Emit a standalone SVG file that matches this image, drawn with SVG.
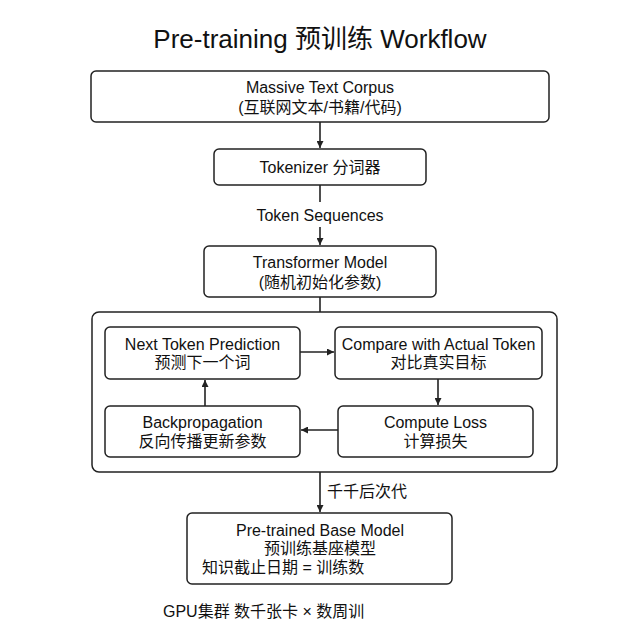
<svg xmlns="http://www.w3.org/2000/svg" width="640" height="640" viewBox="0 0 640 640">
<defs>
<marker id="arr" viewBox="0 0 10 10" refX="10" refY="5" markerWidth="7" markerHeight="7" markerUnits="userSpaceOnUse" orient="auto">
<path d="M0,0 L10,5 L0,10 z" fill="#222"/>
</marker>
<style>
.box{fill:#fff;stroke:#222;stroke-width:1.5}
.t{font-family:"Liberation Sans","Noto Sans CJK SC",sans-serif;font-size:16px;fill:#111;text-anchor:middle}
.ts{font-family:"Liberation Sans","Noto Sans CJK SC",sans-serif;font-size:16px;fill:#111}
.c{stroke:#222;stroke-width:1.6;fill:none}
</style>
</defs>
<rect width="640" height="640" fill="#fff"/>
<text x="320" y="48" class="t" style="font-size:26px">Pre-training 预训练 Workflow</text>

<g id="corpus">
<rect x="91" y="71" width="458" height="51" rx="5" class="box"/>
<text x="320" y="93" class="t">Massive Text Corpus</text>
<text x="320" y="113" class="t">(互联网文本/书籍/代码)</text>
</g>
<g id="tokenizer">
<rect x="214" y="149" width="212" height="36" rx="5" class="box"/>
<text x="320" y="173" class="t">Tokenizer 分词器</text>
</g>
<g id="transformer">
<rect x="204" y="246" width="232" height="51" rx="5" class="box"/>
<text x="320" y="268" class="t">Transformer Model</text>
<text x="320" y="288" class="t">(随机初始化参数)</text>
</g>
<g id="loop">
<rect x="92" y="312" width="465" height="160" rx="7" class="box"/>
</g>
<g id="predict">
<rect x="105" y="327" width="195" height="52" rx="5" class="box"/>
<text x="202.5" y="350" class="t">Next Token Prediction</text>
<text x="202.5" y="368" class="t">预测下一个词</text>
</g>
<g id="compare">
<rect x="335" y="327" width="207" height="52" rx="5" class="box"/>
<text x="438.5" y="350" class="t">Compare with Actual Token</text>
<text x="438.5" y="368" class="t">对比真实目标</text>
</g>
<g id="loss">
<rect x="338" y="406" width="195" height="51" rx="5" class="box"/>
<text x="435.5" y="428" class="t">Compute Loss</text>
<text x="435.5" y="447" class="t">计算损失</text>
</g>
<g id="backprop">
<rect x="105" y="406" width="195" height="51" rx="5" class="box"/>
<text x="202.5" y="428" class="t">Backpropagation</text>
<text x="202.5" y="447" class="t">反向传播更新参数</text>
</g>
<g id="base">
<rect x="187" y="513" width="265" height="71" rx="5" class="box"/>
<text x="320" y="536" class="t">Pre-trained Base Model</text>
<text x="320" y="554" class="t">预训练基座模型</text>
<text x="202" y="573" class="ts">知识截止日期 = 训练数</text>
</g>
<text x="163" y="617" class="ts">GPU集群 数千张卡 × 数周训</text>

<g id="connectors">
<line x1="320" y1="122" x2="320" y2="148" class="c" marker-end="url(#arr)"/>
<line x1="320" y1="185" x2="320" y2="202" class="c"/>
<text x="320" y="221" class="t">Token Sequences</text>
<line x1="320" y1="227" x2="320" y2="245" class="c" marker-end="url(#arr)"/>
<line x1="320" y1="297" x2="320" y2="312" class="c"/>
<line x1="300" y1="352" x2="334" y2="352" class="c" marker-end="url(#arr)"/>
<line x1="438" y1="379" x2="438" y2="405" class="c" marker-end="url(#arr)"/>
<line x1="338" y1="430" x2="301" y2="430" class="c" marker-end="url(#arr)"/>
<line x1="205" y1="406" x2="205" y2="380" class="c" marker-end="url(#arr)"/>
<line x1="320" y1="472" x2="320" y2="512" class="c" marker-end="url(#arr)"/>
<text x="327" y="497" class="ts">千千后次代</text>
</g>
</svg>
